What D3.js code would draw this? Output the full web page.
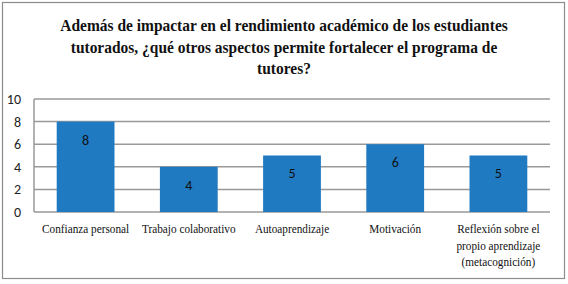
<!DOCTYPE html>
<html><head><meta charset="utf-8"><script src="https://cdn.jsdelivr.net/npm/d3@7"></script></head>
<body style="margin:0">
<svg id="chart" width="568" height="284"></svg>
<script>
const categories = [
  ["Confianza personal"],
  ["Trabajo colaborativo"],
  ["Autoaprendizaje"],
  ["Motivación"],
  ["Reflexión sobre el", "propio aprendizaje", "(metacognición)"]
];
const values = [8, 4, 5, 6, 5];
const yTicks = [0, 2, 4, 6, 8, 10];
const titleLines = [
  "Además de impactar en el rendimiento académico de los estudiantes",
  "tutorados, ¿qué otros aspectos permite fortalecer el programa de",
  "tutores?"
];

const WIDTH = 568;
const HEIGHT = 284;
const margin = { left: 34, right: 18, top: 99, bottom: 72 };
const SERIF = '"Liberation Serif", Tinos, serif';
const SANS = 'Carlito, "Liberation Sans", sans-serif';

const svg = d3.select("#chart");

// outer frame
svg.append("rect")
  .attr("x", 2.5).attr("y", 2.5)
  .attr("width", 562).attr("height", 276)
  .attr("fill", "none")
  .attr("stroke", "#8c8c8c")
  .attr("stroke-width", 1.2);

// title, a bit condensed like the original
svg.append("g")
  .selectAll("text")
  .data(titleLines)
  .join("text")
  .attr("transform", (d, i) => `translate(284, ${31 + i * 21.5}) scale(0.91, 1)`)
  .attr("text-anchor", "middle")
  .style("font-family", SERIF)
  .style("font-weight", "bold")
  .style("font-size", "17px")
  .attr("fill", "#111")
  .text(d => d);

const x = d3.scaleBand()
  .domain(d3.range(values.length))
  .range([margin.left, WIDTH - margin.right])
  .paddingInner(0.44)
  .paddingOuter(0.22);

const y = d3.scaleLinear()
  .domain([0, 10])
  .range([HEIGHT - margin.bottom, margin.top]);

// grid lines
svg.append("g").selectAll("line")
  .data(yTicks)
  .join("line")
  .attr("x1", margin.left)
  .attr("x2", WIDTH - margin.right)
  .attr("y1", d => y(d))
  .attr("y2", d => y(d))
  .attr("stroke", "#999")
  .attr("stroke-width", 1.5);

// left axis line
svg.append("line")
  .attr("x1", margin.left).attr("x2", margin.left)
  .attr("y1", y(10)).attr("y2", y(0))
  .attr("stroke", "#999")
  .attr("stroke-width", 1.5);

svg.append("g").selectAll("text")
  .data(yTicks)
  .join("text")
  .attr("x", margin.left - 13)
  .attr("y", d => y(d))
  .attr("dy", "0.35em")
  .attr("text-anchor", "end")
  .style("font-family", SANS)
  .style("font-size", "14px")
  .attr("fill", "#222")
  .text(d => d);

svg.append("g").selectAll("rect")
  .data(values)
  .join("rect")
  .attr("x", (d, i) => x(i))
  .attr("y", d => y(d))
  .attr("width", x.bandwidth())
  .attr("height", d => y(0) - y(d))
  .attr("fill", "#1f7ac2");

svg.append("g").selectAll("text")
  .data(values)
  .join("text")
  .attr("x", (d, i) => x(i) + x.bandwidth() / 2)
  .attr("y", d => y(d) + 18)
  .attr("dy", "0.35em")
  .attr("text-anchor", "middle")
  .style("font-family", SANS)
  .style("font-size", "14px")
  .attr("fill", "#111")
  .text(d => d);

// category labels, one text per line
const catLines = categories.flatMap((lines, i) => lines.map((line, j) => ({ line, i, j })));
svg.append("g").selectAll("text")
  .data(catLines)
  .join("text")
  .attr("transform", d => `translate(${x(d.i) + x.bandwidth() / 2}, ${y(0) + 21 + d.j * 16.5}) scale(0.9, 1)`)
  .attr("text-anchor", "middle")
  .style("font-family", SERIF)
  .style("font-size", "12.5px")
  .attr("fill", "#111")
  .text(d => d.line);
</script>
</body>
</html>
